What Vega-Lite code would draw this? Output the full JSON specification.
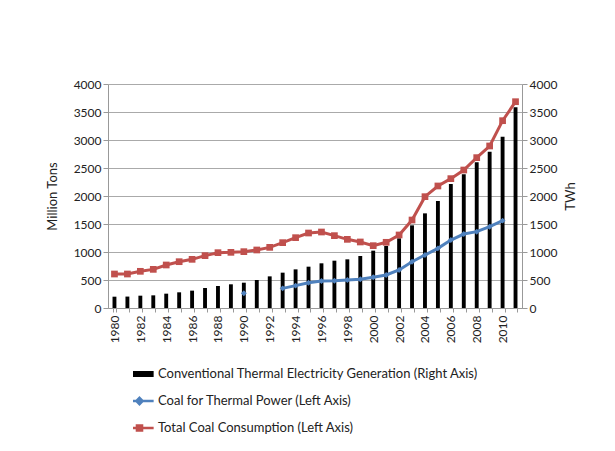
{
  "$schema": "https://vega.github.io/schema/vega-lite/v6.json",
  "autosize": "none",
  "width": 414,
  "height": 224,
  "padding": {"left": 108, "top": 84, "right": 93, "bottom": 143},
  "background": "white",
  "config": {
    "font": "Lato",
    "view": {"stroke": null},
    "axis": {"labelFont": "Lato", "titleFont": "Lato", "labelColor": "#222", "titleColor": "#222", "labelFontSize": 12, "titleFontSize": 13, "titleFontWeight": "normal", "domainColor": "#999", "tickColor": "#999", "gridColor": "#aaa"}
  },
  "data": {"values": [
    {"year": 1980, "gen": 202, "thermal": null, "total": 607},
    {"year": 1981, "gen": 204, "thermal": null, "total": 607},
    {"year": 1982, "gen": 220, "thermal": null, "total": 655},
    {"year": 1983, "gen": 226, "thermal": null, "total": 690},
    {"year": 1984, "gen": 256, "thermal": null, "total": 768},
    {"year": 1985, "gen": 280, "thermal": null, "total": 827},
    {"year": 1986, "gen": 310, "thermal": null, "total": 869},
    {"year": 1987, "gen": 357, "thermal": null, "total": 935},
    {"year": 1988, "gen": 393, "thermal": null, "total": 988},
    {"year": 1989, "gen": 423, "thermal": null, "total": 994},
    {"year": 1990, "gen": 452, "thermal": 262, "total": 1006},
    {"year": 1991, "gen": 500, "thermal": null, "total": 1036},
    {"year": 1992, "gen": 565, "thermal": null, "total": 1083},
    {"year": 1993, "gen": 631, "thermal": 351, "total": 1167},
    {"year": 1994, "gen": 690, "thermal": 399, "total": 1256},
    {"year": 1995, "gen": 738, "thermal": 452, "total": 1339},
    {"year": 1996, "gen": 798, "thermal": 482, "total": 1357},
    {"year": 1997, "gen": 845, "thermal": 488, "total": 1292},
    {"year": 1998, "gen": 869, "thermal": 500, "total": 1226},
    {"year": 1999, "gen": 929, "thermal": 512, "total": 1179},
    {"year": 2000, "gen": 1024, "thermal": 548, "total": 1113},
    {"year": 2001, "gen": 1107, "thermal": 589, "total": 1173},
    {"year": 2002, "gen": 1244, "thermal": 679, "total": 1304},
    {"year": 2003, "gen": 1476, "thermal": 827, "total": 1571},
    {"year": 2004, "gen": 1690, "thermal": 946, "total": 1988},
    {"year": 2005, "gen": 1911, "thermal": 1065, "total": 2179},
    {"year": 2006, "gen": 2214, "thermal": 1214, "total": 2310},
    {"year": 2007, "gen": 2387, "thermal": 1321, "total": 2464},
    {"year": 2008, "gen": 2601, "thermal": 1363, "total": 2685},
    {"year": 2009, "gen": 2792, "thermal": 1452, "total": 2893},
    {"year": 2010, "gen": 3060, "thermal": 1560, "total": 3345},
    {"year": 2011, "gen": 3584, "thermal": null, "total": 3684}
  ]},
  "encoding": {
    "x": {
      "field": "year", "type": "ordinal",
      "scale": {"paddingInner": 0.7, "paddingOuter": 0.35},
      "axis": {"title": null, "labelAngle": -90, "labelAlign": "right", "labelBaseline": "middle", "labelExpr": "datum.value % 2 == 0 ? datum.label : ''", "tickBand": "extent", "tickSize": 4, "grid": false, "labelPadding": 3}
    }
  },
  "layer": [
    {
      "mark": {"type": "bar", "color": "black"},
      "encoding": {
        "y": {"field": "gen", "type": "quantitative", "scale": {"domain": [0, 4000]}, "axis": {"orient": "right", "title": "TWh", "titleAngle": -90, "titleBaseline": "top", "format": "d", "values": [0,500,1000,1500,2000,2500,3000,3500,4000], "grid": false, "tickSize": 5, "titlePadding": 8}},
        "color": {"datum": "Conventional Thermal Electricity Generation (Right Axis)", "type": "nominal",
          "scale": {"domain": ["Conventional Thermal Electricity Generation (Right Axis)", "Coal for Thermal Power (Left Axis)", "Total Coal Consumption (Left Axis)"], "range": ["#000000", "#4F81BD", "#C0504D"]},
          "legend": {"title": null, "orient": "none", "legendX": 25, "legendY": 282, "direction": "vertical", "symbolType": "stroke", "symbolSize": 800, "symbolStrokeWidth": 3, "labelFont": "Lato", "labelFontSize": 13, "labelColor": "#222", "clipHeight": 16, "rowPadding": 11, "labelOffset": 12, "labelLimit": 500,
            "encode": {"symbols": {"update": {
              "strokeWidth": {"signal": "datum.index == 0 ? 6 : 2.5"},
              "shape": {"signal": "datum.index == 0 ? 'stroke' : (datum.index == 1 ? 'M-1,0H1M0,-0.22L0.22,0L0,0.22L-0.22,0Z' : 'M-1,0H1M-0.18,-0.18H0.18V0.18H-0.18Z')"},
              "fill": {"signal": "datum.index == 0 ? 'transparent' : (datum.index == 1 ? '#4F81BD' : '#C0504D')"}
            }}}}
        }
      }
    },
    {
      "layer": [
        {
          "mark": {"type": "line", "strokeWidth": 3, "invalid": "break-paths-show-domains", "point": {"shape": "diamond", "size": 35, "filled": true}},
          "encoding": {
            "y": {"field": "thermal", "type": "quantitative"},
            "color": {"datum": "Coal for Thermal Power (Left Axis)", "type": "nominal"}
          }
        },
        {
          "mark": {"type": "line", "strokeWidth": 3, "point": {"shape": "square", "size": 45, "filled": true}},
          "encoding": {
            "y": {"field": "total", "type": "quantitative"},
            "color": {"datum": "Total Coal Consumption (Left Axis)", "type": "nominal"}
          }
        }
      ],
      "encoding": {
        "y": {"type": "quantitative", "scale": {"domain": [0, 4000]}, "axis": {"orient": "left", "title": "Million Tons", "format": "d", "values": [0,500,1000,1500,2000,2500,3000,3500,4000], "grid": true, "tickSize": 5, "titlePadding": 14}}
      }
    }
  ],
  "resolve": {"scale": {"y": "independent"}, "axis": {"y": "independent"}}
}
